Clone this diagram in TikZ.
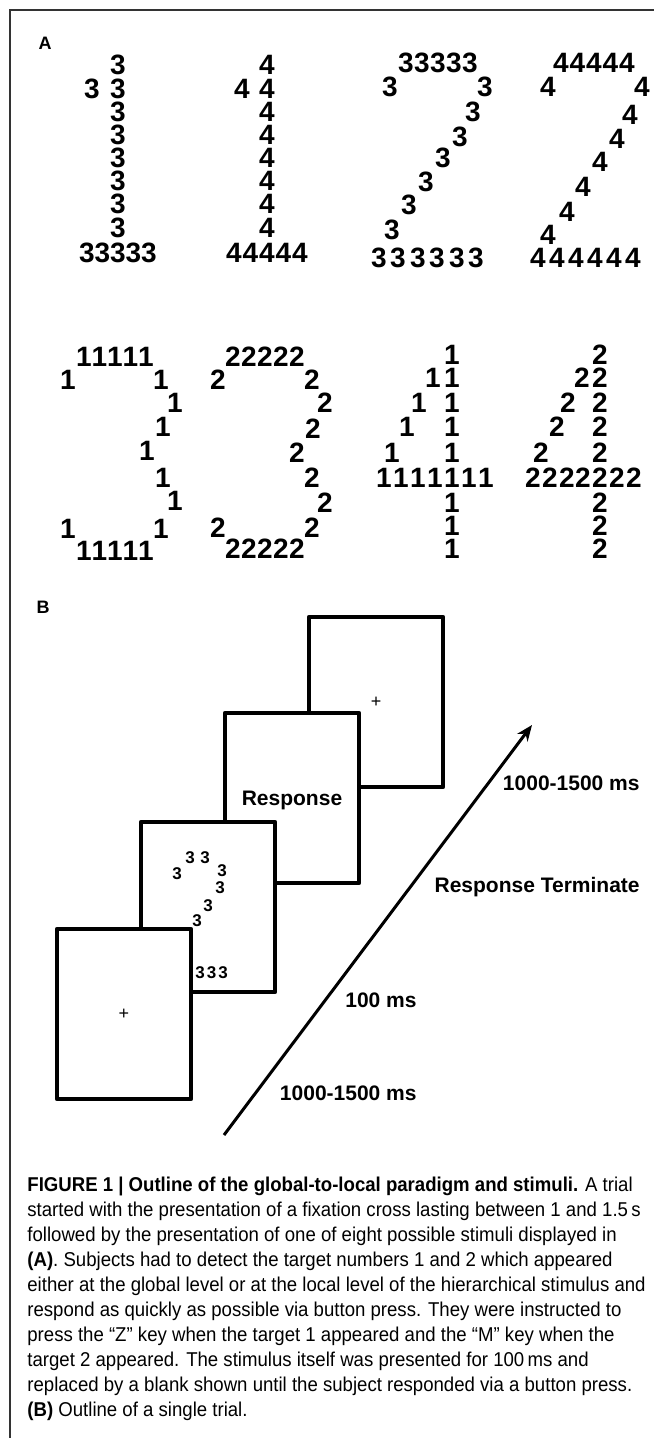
\documentclass[tikz,border=0pt]{standalone}
\usepackage{fontspec}
\setmainfont{Liberation Sans}
\newfontfamily\capfont[FakeStretch=0.93]{Liberation Sans}
\usetikzlibrary{arrows.meta}

\begin{document}
\begin{tikzpicture}[x=0.5pt, y=-0.5pt,
		dig/.style={font=\fontsize{14}{14}\selectfont\bfseries, inner sep=0pt, text height=10pt, text depth=0pt},
		small/.style={font=\fontsize{8.5}{8.5}\selectfont\bfseries, inner sep=0pt, text height=6.1pt, text depth=0pt},
		screen/.style={draw, fill=white, line width=2.25pt, line join=round, minimum width=67pt, minimum height=85pt, inner sep=0pt},
		cross/.style={font=\fontsize{9}{9}\selectfont, inner sep=0pt},
		lbl/.style={font=\fontsize{10.5}{10.5}\selectfont\bfseries, inner sep=0pt, text height=7.5pt, text depth=0pt},
		panel/.style={font=\fontsize{9}{9}\selectfont\bfseries, inner sep=0pt, text height=6.4pt, text depth=0pt},
		frame/.style={draw=black!80, line width=0.75pt},
		timeline/.style={line width=1.5pt, -{Stealth[length=8pt, width=6.5pt]}}]
		\useasboundingbox ( 0, 0 ) rectangle ( 654, 1438 );

		% рамка
		\draw [frame] ( 10, 1438 ) -- ( 10, 10 ) -- ( 654, 10 );

		% панель A
		\node [panel] (pa) at ( 45, 43 ) {A};

		% глобальная 1 из троек
		\node [dig] (a1) at ( 118, 65 ) {3};
		\node [dig] (a2) at ( 92, 89 ) {3}; \node [dig] (a3) at ( 118, 89 ) {3};
		\node [dig] (a4) at ( 118, 112 ) {3};
		\node [dig] (a5) at ( 118, 135 ) {3};
		\node [dig] (a6) at ( 118, 158 ) {3};
		\node [dig] (a7) at ( 118, 181 ) {3};
		\node [dig] (a8) at ( 118, 204 ) {3};
		\node [dig] (a9) at ( 118, 228 ) {3};
		\node [dig] (a10) at ( 87, 253 ) {3}; \node [dig] (a11) at ( 102.5, 253 ) {3}; \node [dig] (a12) at ( 118, 253 ) {3};
		\node [dig] (a13) at ( 133.5, 253 ) {3}; \node [dig] (a14) at ( 149, 253 ) {3};

		% глобальная 1 из четверок
		\node [dig] (b1) at ( 267, 65 ) {4};
		\node [dig] (b2) at ( 242, 89 ) {4}; \node [dig] (b3) at ( 267, 89 ) {4};
		\node [dig] (b4) at ( 267, 112 ) {4};
		\node [dig] (b5) at ( 267, 135 ) {4};
		\node [dig] (b6) at ( 267, 158 ) {4};
		\node [dig] (b7) at ( 267, 181 ) {4};
		\node [dig] (b8) at ( 267, 204 ) {4};
		\node [dig] (b9) at ( 267, 228 ) {4};
		\node [dig] (b10) at ( 234, 253 ) {4}; \node [dig] (b11) at ( 250.5, 253 ) {4}; \node [dig] (b12) at ( 267, 253 ) {4};
		\node [dig] (b13) at ( 283.5, 253 ) {4}; \node [dig] (b14) at ( 300, 253 ) {4};

		% глобальная 2 из троек
		\node [dig] (c1) at ( 406, 63 ) {3}; \node [dig] (c2) at ( 422, 63 ) {3}; \node [dig] (c3) at ( 438, 63 ) {3};
		\node [dig] (c4) at ( 454, 63 ) {3}; \node [dig] (c5) at ( 470, 63 ) {3};
		\node [dig] (c6) at ( 390, 87 ) {3}; \node [dig] (c7) at ( 485, 87 ) {3};
		\node [dig] (c8) at ( 473, 112 ) {3};
		\node [dig] (c9) at ( 460, 137 ) {3};
		\node [dig] (c10) at ( 443, 158 ) {3};
		\node [dig] (c11) at ( 426, 182 ) {3};
		\node [dig] (c12) at ( 409, 205 ) {3};
		\node [dig] (c13) at ( 392, 230 ) {3};
		\node [dig] (c14) at ( 379, 258 ) {3}; \node [dig] (c15) at ( 398, 258 ) {3}; \node [dig] (c16) at ( 418, 258 ) {3};
		\node [dig] (c17) at ( 437, 258 ) {3}; \node [dig] (c18) at ( 457, 258 ) {3}; \node [dig] (c19) at ( 476, 258 ) {3};

		% глобальная 2 из четверок
		\node [dig] (d1) at ( 561, 63 ) {4}; \node [dig] (d2) at ( 577.5, 63 ) {4}; \node [dig] (d3) at ( 594, 63 ) {4};
		\node [dig] (d4) at ( 610.5, 63 ) {4}; \node [dig] (d5) at ( 627, 63 ) {4};
		\node [dig] (d6) at ( 548, 87 ) {4}; \node [dig] (d7) at ( 642, 87 ) {4};
		\node [dig] (d8) at ( 630, 115 ) {4};
		\node [dig] (d9) at ( 617, 139 ) {4};
		\node [dig] (d10) at ( 600, 162 ) {4};
		\node [dig] (d11) at ( 583, 187 ) {4};
		\node [dig] (d12) at ( 567, 212 ) {4};
		\node [dig] (d13) at ( 548, 235 ) {4};
		\node [dig] (d14) at ( 538, 258 ) {4}; \node [dig] (d15) at ( 557, 258 ) {4}; \node [dig] (d16) at ( 576, 258 ) {4};
		\node [dig] (d17) at ( 595, 258 ) {4}; \node [dig] (d18) at ( 614, 258 ) {4}; \node [dig] (d19) at ( 633, 258 ) {4};

		% глобальная 3 из единиц
		\node [dig] (e1) at ( 84, 357 ) {1}; \node [dig] (e2) at ( 99.5, 357 ) {1}; \node [dig] (e3) at ( 115, 357 ) {1};
		\node [dig] (e4) at ( 130.5, 357 ) {1}; \node [dig] (e5) at ( 146, 357 ) {1};
		\node [dig] (e6) at ( 68, 380 ) {1}; \node [dig] (e7) at ( 161, 380 ) {1};
		\node [dig] (e8) at ( 175, 403 ) {1};
		\node [dig] (e9) at ( 163, 427 ) {1};
		\node [dig] (e10) at ( 147, 450 ) {1};
		\node [dig] (e11) at ( 163, 477 ) {1};
		\node [dig] (e12) at ( 175, 500 ) {1};
		\node [dig] (e13) at ( 68, 528 ) {1}; \node [dig] (e14) at ( 161, 528 ) {1};
		\node [dig] (e15) at ( 84, 550 ) {1}; \node [dig] (e16) at ( 99.5, 550 ) {1}; \node [dig] (e17) at ( 115, 550 ) {1};
		\node [dig] (e18) at ( 130.5, 550 ) {1}; \node [dig] (e19) at ( 146, 550 ) {1};

		% глобальная 3 из двоек
		\node [dig] (f1) at ( 233, 357 ) {2}; \node [dig] (f2) at ( 249, 357 ) {2}; \node [dig] (f3) at ( 265, 357 ) {2};
		\node [dig] (f4) at ( 281, 357 ) {2}; \node [dig] (f5) at ( 297, 357 ) {2};
		\node [dig] (f6) at ( 218, 380 ) {2}; \node [dig] (f7) at ( 312, 380 ) {2};
		\node [dig] (f8) at ( 325, 403 ) {2};
		\node [dig] (f9) at ( 313, 428 ) {2};
		\node [dig] (f10) at ( 297, 452 ) {2};
		\node [dig] (f11) at ( 312, 477 ) {2};
		\node [dig] (f12) at ( 325, 502 ) {2};
		\node [dig] (f13) at ( 218, 527 ) {2}; \node [dig] (f14) at ( 312, 527 ) {2};
		\node [dig] (f15) at ( 233, 548 ) {2}; \node [dig] (f16) at ( 249, 548 ) {2}; \node [dig] (f17) at ( 265, 548 ) {2};
		\node [dig] (f18) at ( 281, 548 ) {2}; \node [dig] (f19) at ( 297, 548 ) {2};

		% глобальная 4 из единиц
		\node [dig] (g1) at ( 452, 355 ) {1};
		\node [dig] (g2) at ( 433, 378 ) {1}; \node [dig] (g3) at ( 452, 378 ) {1};
		\node [dig] (g4) at ( 419, 403 ) {1}; \node [dig] (g5) at ( 452, 403 ) {1};
		\node [dig] (g6) at ( 407, 427 ) {1}; \node [dig] (g7) at ( 452, 427 ) {1};
		\node [dig] (g8) at ( 392, 452 ) {1}; \node [dig] (g9) at ( 452, 452 ) {1};
		\node [dig] (g10) at ( 384, 477 ) {1}; \node [dig] (g11) at ( 401, 477 ) {1}; \node [dig] (g12) at ( 418, 477 ) {1};
		\node [dig] (g13) at ( 435, 477 ) {1}; \node [dig] (g14) at ( 452, 477 ) {1}; \node [dig] (g15) at ( 469, 477 ) {1};
		\node [dig] (g16) at ( 486, 477 ) {1};
		\node [dig] (g17) at ( 452, 502 ) {1};
		\node [dig] (g18) at ( 452, 525 ) {1};
		\node [dig] (g19) at ( 452, 548 ) {1};

		% глобальная 4 из двоек
		\node [dig] (h1) at ( 600, 355 ) {2};
		\node [dig] (h2) at ( 582, 378 ) {2}; \node [dig] (h3) at ( 600, 378 ) {2};
		\node [dig] (h4) at ( 568, 403 ) {2}; \node [dig] (h5) at ( 600, 403 ) {2};
		\node [dig] (h6) at ( 557, 427 ) {2}; \node [dig] (h7) at ( 600, 427 ) {2};
		\node [dig] (h8) at ( 541, 452 ) {2}; \node [dig] (h9) at ( 600, 452 ) {2};
		\node [dig] (h10) at ( 533, 477 ) {2}; \node [dig] (h11) at ( 550, 477 ) {2}; \node [dig] (h12) at ( 567, 477 ) {2};
		\node [dig] (h13) at ( 583, 477 ) {2}; \node [dig] (h14) at ( 600, 477 ) {2}; \node [dig] (h15) at ( 617, 477 ) {2};
		\node [dig] (h16) at ( 634, 477 ) {2};
		\node [dig] (h17) at ( 600, 502 ) {2};
		\node [dig] (h18) at ( 600, 525 ) {2};
		\node [dig] (h19) at ( 600, 548 ) {2};

		% панель B
		\node [panel] (pb) at ( 43, 607 ) {B};

		% экран 1: фиксация
		\node [screen] (scr1) at ( 376, 702 ) {};
		\node [cross] (cr1) at (scr1) {+};

		% экран 2: ответ
		\node [screen] (scr2) at ( 292, 798 ) {};
		\node [lbl] (resp) at (scr2) {Response};

		% экран 3: стимул
		\node [screen] (scr3) at ( 208, 907 ) {};
		\node [small] (s1) at ( 177, 873 ) {3};
		\node [small] (s2) at ( 190, 857 ) {3}; \node [small] (s3) at ( 205, 857 ) {3};
		\node [small] (s4) at ( 222, 870 ) {3};
		\node [small] (s5) at ( 220, 887 ) {3};
		\node [small] (s6) at ( 208, 905 ) {3};
		\node [small] (s7) at ( 197, 920 ) {3};
		\node [small] (s8) at ( 200, 972 ) {3}; \node [small] (s9) at ( 211.5, 972 ) {3}; \node [small] (s10) at ( 223, 972 ) {3};

		% экран 4: фиксация
		\node [screen] (scr4) at ( 124, 1014 ) {};
		\node [cross] (cr4) at (scr4) {+};

		% ось времени
		\coordinate (t0) at ( 224, 1135 );
		\coordinate (t1) at ( 532, 725 );
		\draw [timeline] (t0) -- (t1);
		\node [lbl, anchor=east] (l1) at ( 640, 783 ) {1000-1500 ms};
		\node [lbl, anchor=east] (l2) at ( 640, 885 ) {Response Terminate};
		\node [lbl, anchor=east] (l3) at ( 417, 1000 ) {100 ms};
		\node [lbl, anchor=east] (l4) at ( 417, 1093 ) {1000-1500 ms};

		% подпись
		\node [anchor=north west, inner sep=0pt, align=left, font=\capfont\fontsize{10}{12.5}\selectfont] (cap) at ( 27, 1177 ) {%
			\textbf{FIGURE 1 | Outline of the global-to-local paradigm and stimuli.} A trial\\
			started with the presentation of a fixation cross lasting between 1 and 1.5\,s\\
			followed by the presentation of one of eight possible stimuli displayed in\\
			\textbf{(A)}. Subjects had to detect the target numbers 1 and 2 which appeared\\
			either at the global level or at the local level of the hierarchical stimulus and\\
			respond as quickly as possible via button press. They were instructed to\\
			press the “Z” key when the target 1 appeared and the “M” key when the\\
			target 2 appeared. The stimulus itself was presented for 100\,ms and\\
			replaced by a blank shown until the subject responded via a button press.\\
			\textbf{(B)} Outline of a single trial.};
	\end{tikzpicture}
\end{document}
